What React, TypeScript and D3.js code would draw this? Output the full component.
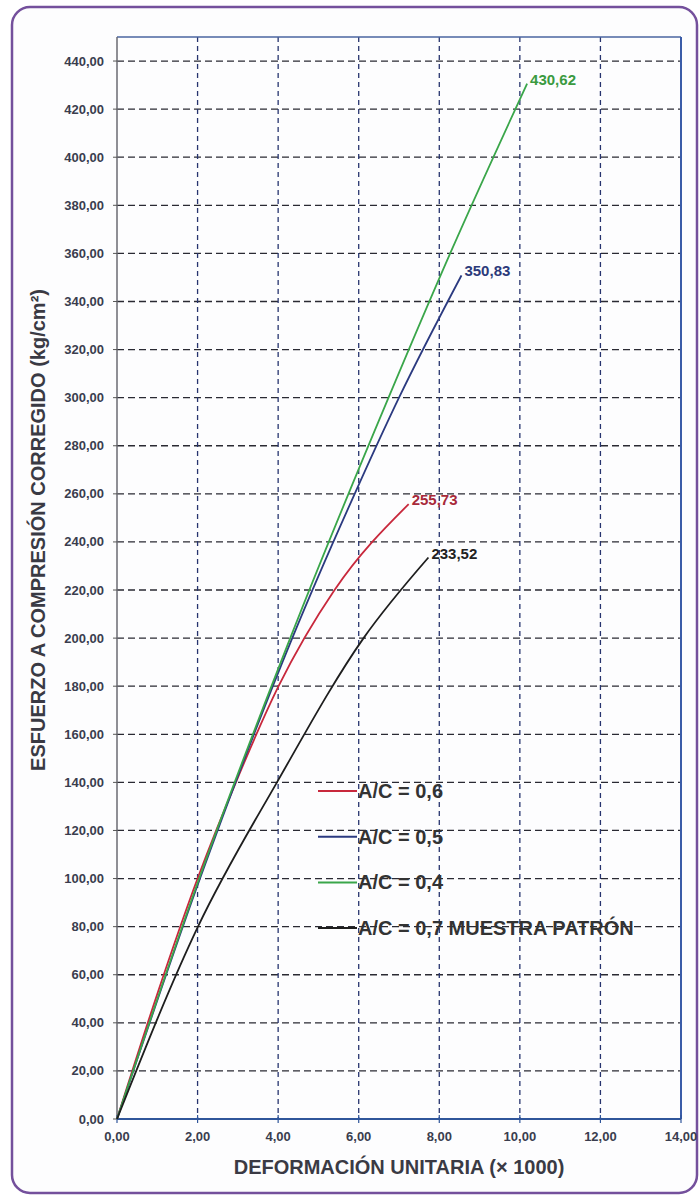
import React from "react";
import * as d3 from "d3";

const xTicks = [0, 2, 4, 6, 8, 10, 12, 14];
const yTicks = [0, 20, 40, 60, 80, 100, 120, 140, 160, 180, 200, 220, 240, 260, 280, 300, 320, 340, 360, 380, 400, 420, 440];

const seriesNames = ["A/C = 0,6", "A/C = 0,5", "A/C = 0,4", "A/C = 0,7 MUESTRA PATRÓN"];
const seriesColors = ["#c8283c", "#2b3a80", "#3aa64a", "#1e1e1e"];
const labelColors = ["#a82a3a", "#2c3a7a", "#3a9a40", "#222222"];

// strain (x1000) vs corrected compressive stress
const redX = [0, 1.0, 2.0, 3.0, 4.01, 5.4, 7.24];
const redY = [0, 52, 100, 142, 180, 220, 255.73];

const blueX = [0, 2.06, 4.35, 5.9, 7.0, 8.55];
const blueY = [0, 100, 200, 260, 300, 350.83];

const greenX = [0, 2.04, 4.3, 6.74, 8.27, 10.18];
const greenY = [0, 100, 200, 300, 360, 430.62];

const blackX = [0, 2.01, 3.97, 6.12, 7.73];
const blackY = [0, 80, 140, 200, 233.52];

const endLabels = ["255,73", "350,83", "430,62", "233,52"];

const seriesX = [redX, blueX, greenX, blackX];
const seriesY = [redY, blueY, greenY, blackY];

const W = 700;
const H = 1197;
const L = 117, R = 681, T = 37, B = 1119;

export default function App() {
  const x = d3.scaleLinear().domain([0, 14]).range([L, R]);
  const y = d3.scaleLinear().domain([0, 450]).range([B, T]);
  const fmt = (v: number) => v.toFixed(2).replace(".", ",");
  const line = d3
    .line<[number, number]>()
    .x((d) => x(d[0]))
    .y((d) => y(d[1]))
    .curve(d3.curveMonotoneX);

  const font = "'Liberation Sans', Arial, sans-serif";
  const legendY0 = 791;
  const legendStep = 45.7;

  return (
    <svg width={W} height={H} style={{ position: "absolute", left: 0, top: 0, background: "#fff" }} fontFamily={font}>
      <rect x={12} y={7} width={685} height={1186} rx={18} ry={18} fill="#fdfdfe" stroke="#74509c" strokeWidth={2.5} />
      {/* horizontal grid */}
      {yTicks.filter((t) => t > 0).map((t) => (
        <line key={"h" + t} x1={L} x2={R} y1={y(t)} y2={y(t)} stroke="#2a2a33" strokeWidth={1.3} strokeDasharray="7,4" />
      ))}
      {/* vertical grid */}
      {xTicks.filter((t) => t > 0 && t < 14).map((t) => (
        <line key={"v" + t} x1={x(t)} x2={x(t)} y1={T} y2={B} stroke="#27346e" strokeWidth={1.3} strokeDasharray="5,4" />
      ))}
      {/* plot frame */}
      <line x1={L} x2={R} y1={T} y2={T} stroke="#4a65a0" strokeWidth={1.6} />
      <line x1={R} x2={R} y1={T} y2={B} stroke="#3a5ca8" strokeWidth={2} />
      <line x1={L} x2={L} y1={T} y2={B} stroke="#6a6a72" strokeWidth={1.5} />
      <line x1={L} x2={R} y1={B} y2={B} stroke="#2f559a" strokeWidth={2} />
      {/* y ticks */}
      {yTicks.map((t) => (
        <g key={"yt" + t}>
          <line x1={L - 4} x2={L} y1={y(t)} y2={y(t)} stroke="#555" strokeWidth={1} />
          <text x={104} y={y(t)} dy="0.35em" textAnchor="end" fontSize={13} fontWeight="bold" fill="#3a3d4e">
            {fmt(t)}
          </text>
        </g>
      ))}
      {/* x ticks */}
      {xTicks.map((t) => (
        <g key={"xt" + t}>
          <line x1={x(t)} x2={x(t)} y1={B - 4} y2={B + 4} stroke="#2f559a" strokeWidth={1.2} />
          <text x={x(t)} y={1141} textAnchor="middle" fontSize={13} fontWeight="bold" fill="#3a3d4e">
            {fmt(t)}
          </text>
        </g>
      ))}
      {/* series */}
      {seriesX.map((xs, i) => {
        const pts: [number, number][] = xs.map((v, j) => [v, seriesY[i][j]]);
        return <path key={"s" + i} d={line(pts) || ""} fill="none" stroke={seriesColors[i]} strokeWidth={1.8} />;
      })}
      {/* end labels */}
      {seriesX.map((xs, i) => {
        const n = xs.length - 1;
        return (
          <text key={"el" + i} x={x(xs[n]) + 3} y={y(seriesY[i][n]) + 1} fontSize={15} fontWeight="bold" fill={labelColors[i]}>
            {endLabels[i]}
          </text>
        );
      })}
      {/* legend */}
      {seriesNames.map((name, i) => (
        <g key={"lg" + i}>
          <line x1={318} x2={357} y1={legendY0 + i * legendStep} y2={legendY0 + i * legendStep} stroke={seriesColors[i]} strokeWidth={2} />
          <text x={358} y={legendY0 + i * legendStep} dy="0.35em" fontSize={20} fontWeight="bold" fill="#333">
            {name}
          </text>
        </g>
      ))}
      {/* axis titles */}
      <text x={(L + R) / 2} y={1174} textAnchor="middle" fontSize={20} fontWeight="bold" fill="#3a3a44">
        DEFORMACIÓN UNITARIA (× 1000)
      </text>
      <text transform={`translate(45,530) rotate(-90)`} textAnchor="middle" fontSize={20} fontWeight="bold" fill="#3a3a44">
        ESFUERZO A COMPRESIÓN CORREGIDO (kg/cm²)
      </text>
    </svg>
  );
}
